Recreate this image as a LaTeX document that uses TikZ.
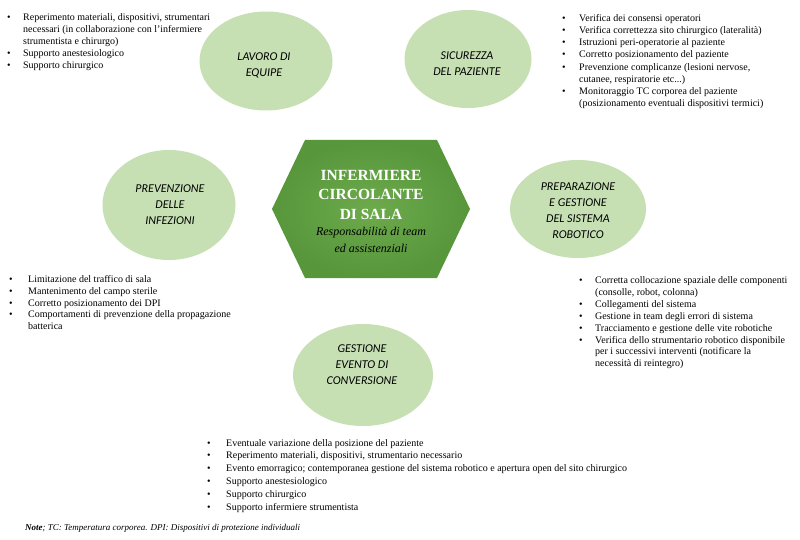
\documentclass[tikz,border=0pt]{standalone}
\usepackage{fontspec}
\setmainfont{Liberation Serif}
\newfontfamily\calib{Carlito}
\usetikzlibrary{shapes.geometric}
\definecolor{hexin}{RGB}{108,170,76}
\definecolor{hexout}{RGB}{88,150,60}
\definecolor{ellgreen}{RGB}{198,224,180}
\newcommand{\bu}{\textbullet}
\begin{document}
\begin{tikzpicture}[x=1pt,y=-1pt,
  bubble/.style={ellipse, fill=ellgreen, inner sep=0pt},
  bubbletext/.style={inner sep=0pt, align=center, text=black,
    font=\calib\itshape\fontsize{12}{16}\selectfont},
  listbox/.style={anchor=north west, inner sep=0pt},
  hubtitle/.style={anchor=base, inner sep=0pt, text=white, font=\fontsize{15.5}{19}\selectfont\bfseries},
  hubsub/.style={anchor=base, inner sep=0pt, font=\fontsize{12}{15}\selectfont\itshape},
  notebox/.style={anchor=base west, inner sep=0pt, font=\fontsize{9}{10}\selectfont\itshape}]
\useasboundingbox (0,0) rectangle (800,540);
\fill[white] (0,0) rectangle (800,540);

% central hexagon
\shade[inner color=hexin, outer color=hexout]
  (272,209) -- (305,140) -- (437,140) -- (470,209) -- (437,278) -- (305,278) -- cycle;
\node[hubtitle] (h1) at (371,181) {INFERMIERE};
\node[hubtitle] (h2) at (371,200) {CIRCOLANTE};
\node[hubtitle] (h3) at (371,219) {DI SALA};
\node[hubsub] (h4) at (371,235) {Responsabilità di team};
\node[hubsub] (h5) at (371,252) {ed assistenziali};

% bubbles
\node[bubble, minimum width=133, minimum height=99] (lav) at (266,61) {};
\node[bubbletext] (lavt) at (264,65) {LAVORO DI\\EQUIPE};
\node[bubble, minimum width=127, minimum height=98] (sic) at (468,59) {};
\node[bubbletext] (sict) at (467,64) {SICUREZZA\\DEL PAZIENTE};
\node[bubble, minimum width=133, minimum height=110] (pre) at (169,205) {};
\node[bubbletext] (pret) at (170,205) {PREVENZIONE\\DELLE\\INFEZIONI};
\node[bubble, minimum width=136, minimum height=98] (rob) at (578,209) {};
\node[bubbletext] (robt) at (578,211) {PREPARAZIONE\\E GESTIONE\\DEL SISTEMA\\ROBOTICO};
\node[bubble, minimum width=140, minimum height=102] (con) at (363,375) {};
\node[bubbletext] (cont) at (362,365) {GESTIONE\\EVENTO DI\\CONVERSIONE};

% lists
\node[listbox, font=\fontsize{10}{12}\selectfont] (l1) at (7,12) {\begin{tabular}{@{}p{16pt}@{}l@{}}
\bu & Reperimento materiali, dispositivi, strumentari\\
 & necessari (in collaborazione con l’infermiere\\
 & strumentista e chirurgo)\\
\bu & Supporto anestesiologico\\
\bu & Supporto chirurgico
\end{tabular}};

\node[listbox, font=\fontsize{10}{12.1}\selectfont] (l2) at (562,13) {\begin{tabular}{@{}p{17pt}@{}l@{}}
\bu & Verifica dei consensi operatori\\
\bu & Verifica correttezza sito chirurgico (lateralità)\\
\bu & Istruzioni peri-operatorie al paziente\\
\bu & Corretto posizionamento del paziente\\
\bu & Prevenzione complicanze (lesioni nervose,\\
 & cutanee, respiratorie etc...)\\
\bu & Monitoraggio TC corporea del paziente\\
 & (posizionamento eventuali dispositivi termici)
\end{tabular}};

\node[listbox, font=\fontsize{10}{11.8}\selectfont] (l3) at (9,274) {\begin{tabular}{@{}p{19pt}@{}l@{}}
\bu & Limitazione del traffico di sala\\
\bu & Mantenimento del campo sterile\\
\bu & Corretto posizionamento dei DPI\\
\bu & Comportamenti di prevenzione della propagazione\\
 & batterica
\end{tabular}};

\node[listbox, font=\fontsize{10}{11.9}\selectfont] (l4) at (579,275) {\begin{tabular}{@{}p{16pt}@{}l@{}}
\bu & Corretta collocazione spaziale delle componenti\\
 & (consolle, robot, colonna)\\
\bu & Collegamenti del sistema\\
\bu & Gestione in team degli errori di sistema\\
\bu & Tracciamento e gestione delle vite robotiche\\
\bu & Verifica dello strumentario robotico disponibile\\
 & per i successivi interventi (notificare la\\
 & necessità di reintegro)
\end{tabular}};

\node[listbox, font=\fontsize{10}{12.8}\selectfont] (l5) at (207,437) {\begin{tabular}{@{}p{19pt}@{}l@{}}
\bu & Eventuale variazione della posizione del paziente\\
\bu & Reperimento materiali, dispositivi, strumentario necessario\\
\bu & Evento emorragico; contemporanea gestione del sistema robotico e apertura open del sito chirurgico\\
\bu & Supporto anestesiologico\\
\bu & Supporto chirurgico\\
\bu & Supporto infermiere strumentista
\end{tabular}};

\node[notebox] (note) at (25,530) {\textbf{Note}; TC: Temperatura corporea. DPI: Dispositivi di protezione individuali};
\end{tikzpicture}
\end{document}
